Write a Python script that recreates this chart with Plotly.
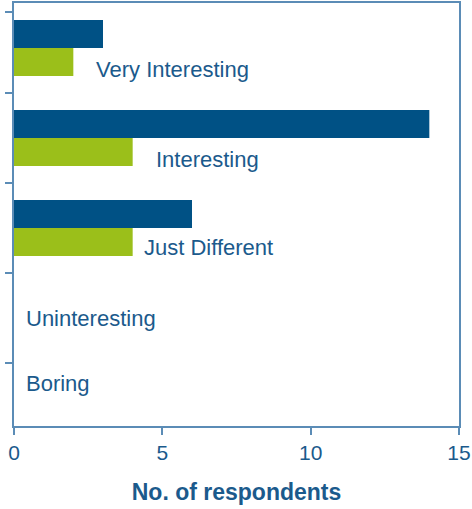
import plotly.graph_objects as go

categories = ["Very Interesting", "Interesting", "Just Different", "Uninteresting", "Boring"]
series_a = [3, 14, 6, 0, 0]   # dark blue
series_b = [2, 4, 4, 0, 0]    # green
x_ticks = [0, 5, 10, 15]
x_title = "No. of respondents"

BLUE = "#005185"
GREEN = "#9bbf1a"
TEXT = "#1b5a8c"
LINE = "#5b8cb6"
FONT = "Liberation Sans, Arial, sans-serif"

positions = list(range(len(categories)))

fig = go.Figure()
fig.add_trace(go.Bar(y=positions, x=series_a, orientation="h", marker_color=BLUE,
                     marker_line_width=0, showlegend=False, hoverinfo="skip"))
fig.add_trace(go.Bar(y=positions, x=series_b, orientation="h", marker_color=GREEN,
                     marker_line_width=0, showlegend=False, hoverinfo="skip"))

# category labels placed to the right of the bars
label_x = [2.7, 4.72, 4.32, 0.34, 0.34]
label_dy = [0.24, 0.24, 0.22, 0.0, -0.27]
for pos, cat, lx, dy in zip(positions, categories, label_x, label_dy):
    fig.add_annotation(x=lx, y=pos + dy, text=cat, showarrow=False,
                       xanchor="left", yanchor="middle", xref="x", yref="y",
                       font=dict(family=FONT, size=22, color=TEXT))

fig.update_layout(
    width=472, height=509,
    margin=dict(l=14, r=13, t=3, b=83),
    paper_bgcolor="white", plot_bgcolor="white",
    barmode="group", bargap=0.38, bargroupgap=0,
    font=dict(family=FONT, size=21, color=TEXT),
)
fig.update_xaxes(
    range=[0, 15], tickvals=x_ticks, ticks="outside", ticklen=7, tickcolor=LINE, tickwidth=1.5,
    showline=True, linecolor=LINE, linewidth=1.5, mirror=True, showgrid=False, zeroline=False,
    automargin=False,
    tickfont=dict(family=FONT, size=21, color=TEXT),
    title=dict(text="<b>" + x_title + "</b>", font=dict(family=FONT, size=23, color=TEXT), standoff=21),
)
fig.update_yaxes(
    range=[4.2, -0.5], tickvals=[-0.4, 0.5, 1.5, 2.5, 3.5],
    ticktext=["", "", "", "", ""], ticks="outside", ticklen=7, tickcolor=LINE, tickwidth=1.5,
    showline=True, linecolor=LINE, linewidth=1.5, mirror=True, showgrid=False, zeroline=False,
    automargin=False,
)

fig.write_html("out.html", config={"displayModeBar": False},
               post_script="document.body.style.margin='0';")
